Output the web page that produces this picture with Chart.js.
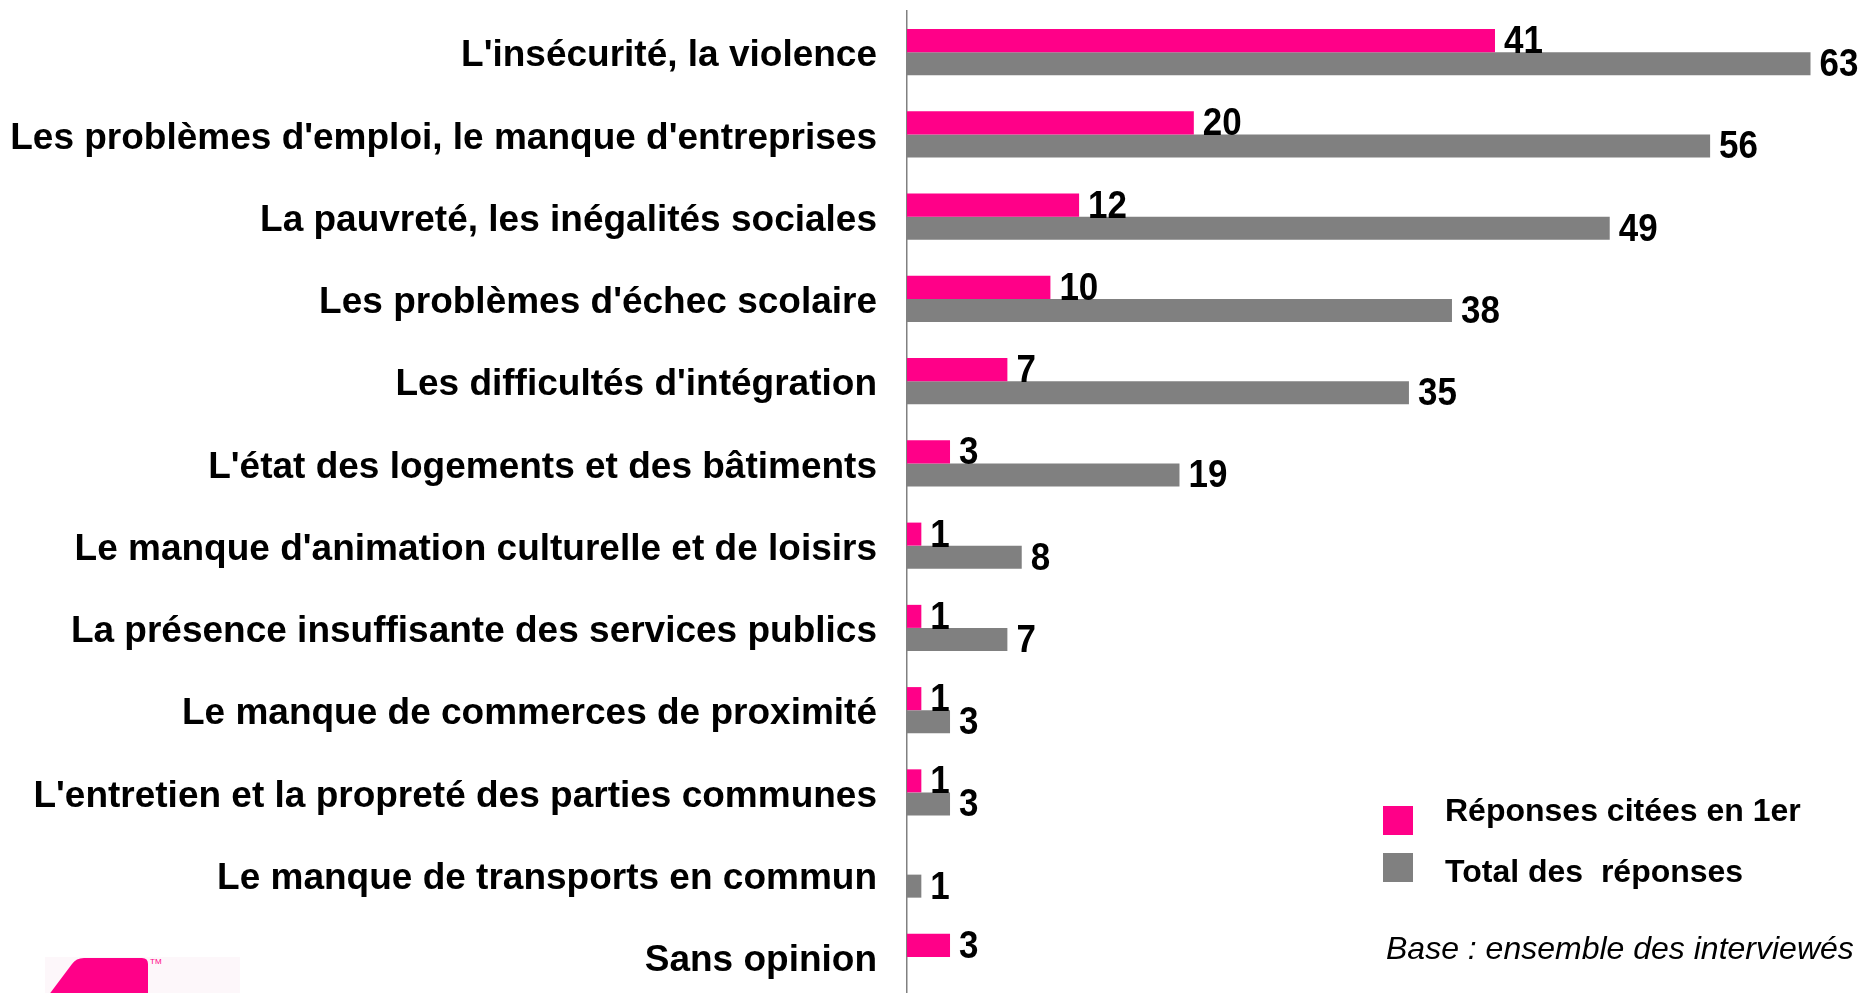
<!DOCTYPE html>
<html>
<head>
<meta charset="utf-8">
<script src="https://cdn.jsdelivr.net/npm/chart.js@4.4.1/dist/chart.umd.min.js"></script>
<style>
  html, body { margin: 0; padding: 0; background: #fff; overflow: hidden; }
  #wrap { position: relative; width: 1865px; height: 1000px; }
  .leg { position: absolute; font-family: "Liberation Sans", Arial, sans-serif; font-weight: bold; font-size: 32px; color: #000; line-height: 1; white-space: pre; }
  .sq { position: absolute; width: 30px; height: 29px; }
  .note { position: absolute; font-family: "Liberation Sans", Arial, sans-serif; font-style: italic; font-size: 32px; color: #000; line-height: 1; }
  #logo { position: absolute; left: 0; top: 940px; }
</style>
</head>
<body>
<div id="wrap">
  <canvas id="chart"></canvas>
  <div class="sq" style="left:1383px;top:806px;background:#FF0088"></div>
  <div class="leg" style="left:1445px;top:794px">Réponses citées en 1er</div>
  <div class="sq" style="left:1383px;top:853px;background:#808080"></div>
  <div class="leg" style="left:1445px;top:855px">Total des  réponses</div>
  <div class="note" style="left:1386px;top:932px">Base : ensemble des interviewés</div>
  <svg id="logo" width="260" height="60">
    <rect x="45" y="17" width="195" height="43" fill="#fdf7fa"/>
    <path d="M45 60 L72 24 Q76 18 84 18 L142 18 Q148 18 148 24 L148 60 Z" fill="#FF0088"/>
    <text x="150" y="24" font-size="8" fill="#FF0088" font-family="Liberation Sans">TM</text>
  </svg>
</div>
<script>
// données du graphique
const categories = [
  "L'insécurité, la violence",
  "Les problèmes d'emploi, le manque d'entreprises",
  "La pauvreté, les inégalités sociales",
  "Les problèmes d'échec scolaire",
  "Les difficultés d'intégration",
  "L'état des logements et des bâtiments",
  "Le manque d'animation culturelle et de loisirs",
  "La présence insuffisante des services publics",
  "Le manque de commerces de proximité",
  "L'entretien et la propreté des parties communes",
  "Le manque de transports en commun",
  "Sans opinion"
];
const citeesEn1er = [41, 20, 12, 10, 7, 3, 1, 1, 1, 1, null, 3];
const totalReponses = [63, 56, 49, 38, 35, 19, 8, 7, 3, 3, 1, null];

// valeurs à droite des barres (police un peu condensée)
const valueLabels = {
  id: 'valueLabels',
  afterDatasetsDraw(chart) {
    const ctx = chart.ctx;
    chart.data.datasets.forEach((ds, i) => {
      chart.getDatasetMeta(i).data.forEach((bar, j) => {
        const v = ds.data[j];
        if (v == null) return;
        ctx.save();
        ctx.translate(bar.x + 9, bar.y + 2);
        ctx.scale(0.92, 1);
        ctx.font = 'bold 38px "Liberation Sans", Arial, sans-serif';
        ctx.fillStyle = '#000';
        ctx.textBaseline = 'middle';
        ctx.textAlign = 'left';
        ctx.fillText(v, 0, 0);
        ctx.restore();
      });
    });
  }
};

const ctx = document.getElementById('chart').getContext('2d');
new Chart(ctx, {
  type: 'bar',
  data: {
    labels: categories,
    datasets: [
      { label: 'Réponses citées en 1er', data: citeesEn1er, backgroundColor: '#FF0088' },
      { label: 'Total des  réponses', data: totalReponses, backgroundColor: '#808080' }
    ]
  },
  options: {
    indexAxis: 'y',
    responsive: true,
    maintainAspectRatio: false,
    animation: false,
    layout: { padding: { top: 11, bottom: 2, left: 0, right: 0 } },
    datasets: { bar: { categoryPercentage: 0.56, barPercentage: 1.0 } },
    plugins: { legend: { display: false }, tooltip: { enabled: false } },
    scales: {
      x: { display: false, min: 0, max: 66.8 },
      y: {
        afterFit(scale) {
          scale.width = 907;
          scale.paddingTop = 0;
          scale.paddingBottom = 0;
        },
        grid: { display: false, drawTicks: false },
        border: { display: true, color: '#808080', width: 1.5 },
        ticks: {
          padding: 30,
          labelOffset: 4,
          color: '#000',
          font: { family: '"Liberation Sans", Arial, sans-serif', weight: 'bold', size: 37 }
        }
      }
    }
  },
  plugins: [valueLabels]
});
</script>
</body>
</html>
